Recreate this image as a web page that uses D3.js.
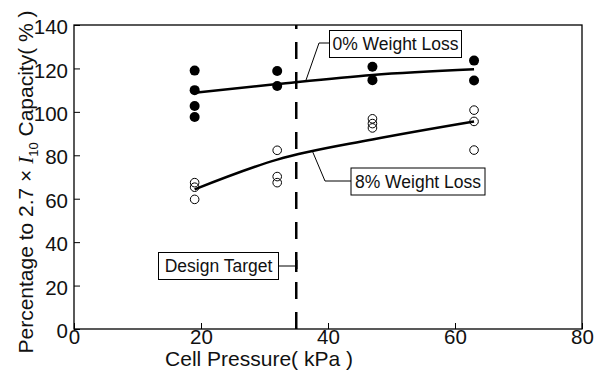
<!DOCTYPE html>
<html>
<head>
<meta charset="utf-8">
<script src="https://cdn.jsdelivr.net/npm/d3@7"></script>
<style>
  body { margin: 0; background: #fff; }
  svg { display: block; }
</style>
</head>
<body>
<div id="chart"></div>
<script>
// Measured values (cell pressure in kPa, capacity in %)
const pressures = [19, 32, 47, 63];
const loss0Points = [
  [119, 110, 102.7, 97.6],
  [118.8, 111.9],
  [120.8, 114.6],
  [123.6, 114.4]
];
const loss8Points = [
  [67.4, 65.3, 59.7],
  [82.3, 70.2, 67.4],
  [96.8, 94.6, 92.6],
  [100.8, 95.6, 82.4]
];
// Fitted trend curves read at the same pressures
const loss0Fit = [108.8, 112.8, 117, 119.6];
const loss8Fit = [64.3, 78, 87.3, 95.6];
const designTarget = 35;
const xTicks = [0, 20, 40, 60, 80];
const yTicks = [0, 20, 40, 60, 80, 100, 120, 140];

const width = 594;
const height = 370;
const margin = { top: 25, right: 12, bottom: 41, left: 74 };

const svg = d3.select("#chart").append("svg")
  .attr("width", width)
  .attr("height", height)
  .style("font-family", "Liberation Sans, Arial, sans-serif");

const x = d3.scaleLinear().domain([0, 80]).range([margin.left, width - margin.right]);
const y = d3.scaleLinear().domain([0, 140]).range([height - margin.bottom, margin.top]);

// axes with inward ticks
svg.append("g")
  .attr("transform", `translate(0,${y(0)})`)
  .call(d3.axisBottom(x).tickValues(xTicks).tickSizeInner(-6).tickSizeOuter(0).tickPadding(3))
  .call(g => g.select(".domain").remove())
  .call(g => g.selectAll("line").attr("stroke", "#000"))
  .call(g => g.selectAll("text").attr("font-size", 20.5).attr("fill", "#111").attr("dy", "0.72em").attr("y", 0.5));

svg.append("g")
  .attr("transform", `translate(${x(0)},0)`)
  .call(d3.axisLeft(y).tickValues(yTicks).tickSizeInner(-6).tickSizeOuter(0).tickPadding(6))
  .call(g => g.select(".domain").remove())
  .call(g => g.selectAll("line").attr("stroke", "#000"))
  .call(g => g.selectAll("text").attr("font-size", 20.5).attr("fill", "#111").attr("dy", "0.42em"));

// frame
svg.append("rect")
  .attr("x", x(0)).attr("y", y(140))
  .attr("width", x(80) - x(0)).attr("height", y(0) - y(140))
  .attr("fill", "none").attr("stroke", "#000").attr("stroke-width", 1.3);

// design target
svg.append("line")
  .attr("x1", x(designTarget)).attr("x2", x(designTarget))
  .attr("y1", y(0)).attr("y2", y(140))
  .attr("stroke", "#000").attr("stroke-width", 2.5)
  .attr("stroke-dasharray", "17,13");

// trend curves
const line = d3.line()
  .x((d, i) => x(pressures[i]))
  .y(d => y(d))
  .curve(d3.curveMonotoneX);

[loss0Fit, loss8Fit].forEach(fit => {
  svg.append("path")
    .attr("d", line(fit))
    .attr("fill", "none")
    .attr("stroke", "#000")
    .attr("stroke-width", 2.5);
});

// points
const flat = (sets) => sets.flatMap((vals, i) => vals.map(v => ({ p: pressures[i], v })));

svg.append("g").selectAll("circle")
  .data(flat(loss8Points))
  .join("circle")
    .attr("cx", d => x(d.p))
    .attr("cy", d => y(d.v))
    .attr("r", 4.3)
    .attr("fill", "none")
    .attr("stroke", "#000")
    .attr("stroke-width", 1);

svg.append("g").selectAll("circle")
  .data(flat(loss0Points))
  .join("circle")
    .attr("cx", d => x(d.p))
    .attr("cy", d => y(d.v))
    .attr("r", 5)
    .attr("fill", "#000");

// callout labels
function callout(label, bx, by, bw, bh, path) {
  svg.append("path")
    .attr("d", d3.line()(path))
    .attr("fill", "none").attr("stroke", "#000").attr("stroke-width", 1);
  svg.append("rect")
    .attr("x", bx).attr("y", by).attr("width", bw).attr("height", bh)
    .attr("fill", "#fff").attr("stroke", "#000").attr("stroke-width", 1);
  svg.append("text")
    .attr("x", bx + bw / 2).attr("y", by + bh / 2)
    .attr("dy", "0.36em")
    .attr("text-anchor", "middle")
    .attr("font-size", 17.5)
    .attr("fill", "#111")
    .text(label);
}

callout("0% Weight Loss", 329.5, 30.5, 132, 27,
  [[329.5, 43], [319, 43], [x(36.5), y(114.3)]]);
callout("8% Weight Loss", 351, 168, 134, 27,
  [[351, 181], [325, 181], [x(37.6), y(81.5)]]);
callout("Design Target", 158.5, 252.5, 120, 27,
  [[278.5, 266], [x(designTarget), 266]]);
svg.append("line")
  .attr("x1", x(designTarget)).attr("x2", x(designTarget))
  .attr("y1", 260).attr("y2", 272)
  .attr("stroke", "#000").attr("stroke-width", 2.5);

// axis titles
svg.append("text")
  .attr("x", 259).attr("y", 366)
  .attr("text-anchor", "middle")
  .attr("font-size", 21)
  .attr("fill", "#111")
  .text("Cell Pressure( kPa )");

const yLabel = svg.append("text")
  .attr("transform", "translate(33,182) rotate(-90)")
  .attr("text-anchor", "middle")
  .attr("font-size", 21)
  .attr("fill", "#111");
yLabel.append("tspan").text("Percentage to 2.7 × ");
yLabel.append("tspan")
  .style("font-family", "Liberation Serif, Times New Roman, serif")
  .style("font-style", "italic")
  .text("I");
yLabel.append("tspan")
  .attr("font-size", 13)
  .attr("dy", 5)
  .text("10");
yLabel.append("tspan")
  .attr("dy", -5)
  .text(" Capacity( % )");
</script>
</body>
</html>
